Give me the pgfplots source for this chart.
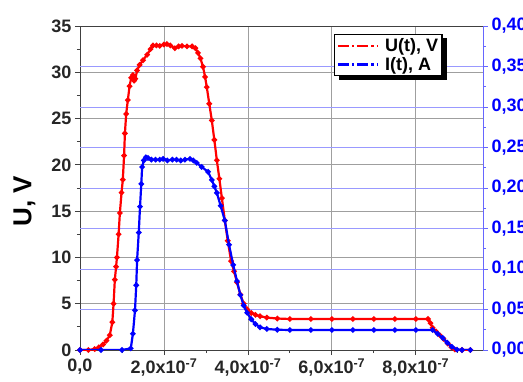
\documentclass[border=0pt]{standalone}
\usepackage{fontspec}
\setmainfont{Liberation Sans}
\usepackage{pgfplots}
\pgfplotsset{compat=1.18}

\pgfplotstableread{
t U
0 0
0.2e-7 0
0.35e-7 0.1
0.45e-7 0.3
0.55e-7 0.6
0.63e-7 1.0
0.71e-7 1.6
0.77e-7 3.0
0.80e-7 5.0
0.83e-7 7.6
0.86e-7 9.0
0.88e-7 10.0
0.92e-7 12.5
0.95e-7 14.8
0.99e-7 17.0
1.02e-7 18.4
1.05e-7 21.0
1.07e-7 23.4
1.10e-7 25.5
1.14e-7 27.0
1.18e-7 28.5
1.22e-7 29.4
1.26e-7 29.7
1.29e-7 29.1
1.32e-7 29.3
1.36e-7 30.2
1.42e-7 30.8
1.50e-7 31.3
1.60e-7 31.9
1.68e-7 32.5
1.74e-7 32.9
1.82e-7 32.9
1.90e-7 32.85
2.00e-7 33.0
2.07e-7 33.05
2.15e-7 32.9
2.26e-7 32.6
2.35e-7 32.8
2.43e-7 32.85
2.55e-7 32.8
2.67e-7 32.8
2.75e-7 32.6
2.81e-7 32.1
2.87e-7 31.5
2.93e-7 30.6
2.98e-7 29.5
3.02e-7 28.4
3.08e-7 26.6
3.14e-7 24.8
3.20e-7 22.7
3.26e-7 20.5
3.32e-7 18.5
3.38e-7 16.4
3.45e-7 14.0
3.52e-7 11.8
3.60e-7 9.6
3.67e-7 8.5
3.74e-7 7.3
3.82e-7 6.0
3.90e-7 5.0
3.98e-7 4.4
4.08e-7 4.0
4.18e-7 3.8
4.29e-7 3.65
4.45e-7 3.5
4.7e-7 3.4
5.0e-7 3.35
5.5e-7 3.35
6.0e-7 3.35
6.5e-7 3.35
7.0e-7 3.35
7.5e-7 3.35
8.0e-7 3.35
8.29e-7 3.35
8.35e-7 2.9
8.40e-7 2.4
8.48e-7 2.0
8.57e-7 1.6
8.66e-7 1.2
8.76e-7 0.7
8.85e-7 0.3
8.93e-7 0.05
9.1e-7 0
9.3e-7 0
}\Udata

\pgfplotstableread{
t I
0 0
0.5e-7 0
1.0e-7 0
1.21e-7 0.002
1.26e-7 0.02
1.31e-7 0.049
1.34e-7 0.08
1.36e-7 0.111
1.40e-7 0.145
1.43e-7 0.177
1.46e-7 0.205
1.48e-7 0.226
1.52e-7 0.234
1.57e-7 0.238
1.62e-7 0.237
1.70e-7 0.235
1.80e-7 0.235
1.90e-7 0.235
1.98e-7 0.236
2.08e-7 0.234
2.20e-7 0.235
2.30e-7 0.235
2.40e-7 0.234
2.50e-7 0.235
2.62e-7 0.236
2.70e-7 0.234
2.78e-7 0.231
2.90e-7 0.226
3.05e-7 0.220
3.14e-7 0.210
3.20e-7 0.202
3.26e-7 0.194
3.35e-7 0.178
3.45e-7 0.160
3.55e-7 0.130
3.65e-7 0.105
3.74e-7 0.085
3.82e-7 0.068
3.90e-7 0.055
3.98e-7 0.046
4.08e-7 0.038
4.18e-7 0.032
4.29e-7 0.028
4.45e-7 0.026
4.7e-7 0.025
5.0e-7 0.0247
5.5e-7 0.0247
6.0e-7 0.0247
6.5e-7 0.0247
7.0e-7 0.0247
7.5e-7 0.0247
8.0e-7 0.0247
8.40e-7 0.0247
8.52e-7 0.020
8.64e-7 0.015
8.75e-7 0.009
8.86e-7 0.004
8.98e-7 0.0005
9.1e-7 0
9.3e-7 0
}\Idata

\begin{document}
\begin{tikzpicture}
\begin{axis}[
  scale only axis, width=403pt, height=324pt,
  xmin=0, xmax=9.6e-7, ymin=0, ymax=35,
  scaled x ticks=false,
  xtick={0,2e-7,4e-7,6e-7,8e-7},
  minor xtick={1e-7,3e-7,5e-7,7e-7,9e-7},
  xticklabels={{0,0},{2,0x10\textsuperscript{-7}},{4,0x10\textsuperscript{-7}},{6,0x10\textsuperscript{-7}},{8,0x10\textsuperscript{-7}}},
  ytick={0,5,10,15,20,25,30,35},
  minor ytick={2.5,7.5,12.5,17.5,22.5,27.5,32.5},
  extra y ticks={4.375,8.75,13.125,17.5,21.875,26.25,30.625},
  extra y tick labels={},
  extra y tick style={grid=major, major grid style={blue!40, line width=0.7pt}, major tick length=0pt},
  xtick pos=left, ytick pos=left,
  tick align=outside,
  major tick length=5pt, minor tick length=3pt,
  xmajorgrids, ymajorgrids,
  major grid style={gray!75, line width=0.8pt},
  axis line style={gray!50!black, line width=0.8pt},
  tick style={gray!50!black, line width=0.8pt},
  tick label style={font=\bfseries\fontsize{18}{18}\selectfont, text=black!85},
  /pgf/number format/assume math mode=true,
  ylabel={U, V},
  ylabel style={at={(axis description cs:-0.138,0.46)}, anchor=center, font=\bfseries\fontsize{26}{26}\selectfont},
]
\addplot[red, line width=2.2pt, mark=*, mark size=1.5pt] table[x=t, y=U] {\Udata};
\end{axis}
\begin{axis}[
  scale only axis, width=403pt, height=324pt,
  xmin=0, xmax=9.6e-7, ymin=0, ymax=0.4,
  axis y line*=right, axis x line=none,
  ytick={0,0.05,0.1,0.15,0.2,0.25,0.3,0.35,0.4},
  minor ytick={0.025,0.075,0.125,0.175,0.225,0.275,0.325,0.375},
  tick align=outside,
  major tick length=5pt, minor tick length=3pt,
  y axis line style={blue!60, line width=0.8pt},
  ytick style={blue!60, line width=0.8pt},
  yticklabel style={font=\bfseries\fontsize{18}{18}\selectfont, text=blue},
  yticklabel={\pgfmathprintnumber[fixed, fixed zerofill, precision=2, use comma, assume math mode=true]{\tick}},
  legend style={at={(0.9,0.975)}, anchor=north east, draw=black, line width=1.2pt, fill=white,
    font=\bfseries\fontsize{18}{21}\selectfont, inner sep=2pt,
    /tikz/every odd column/.append style={column sep=4pt}},
  legend cell align=left,
  legend image code/.code={\draw[mark=none, #1, line width=2.4pt, dash pattern=on 11pt off 3pt on 2.5pt off 3pt] (0pt,0pt) -- (40pt,0pt);},
]
\addlegendimage{red}
\addlegendentry{U(t), V}
\fill[black] (rel axis cs:0.642,0.963) rectangle (rel axis cs:0.910,0.832);
\addplot[blue, line width=2.2pt, mark=*, mark size=1.5pt] table[x=t, y=I] {\Idata};
\addlegendentry{I(t), A}
\end{axis}
\pgfresetboundingbox
\useasboundingbox (-80pt,-31pt) rectangle (443pt,350pt);
\end{tikzpicture}
\end{document}
